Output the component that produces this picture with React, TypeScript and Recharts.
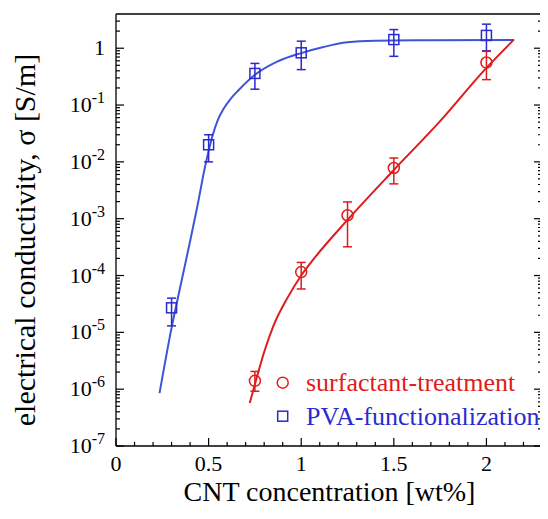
import React from "react";
import {
  ComposedChart,
  Line,
  Scatter,
  ErrorBar,
  XAxis,
  YAxis,
} from "recharts";

const FONT = '"Liberation Serif", "Times New Roman", serif';
const RED = "#e01b1b";
const BLUE_LINE = "#3b55d6";
const BLUE = "#2a2ad0";

// measured points: PVA-functionalization
const pvaX = [0.3, 0.5, 0.75, 1.0, 1.5, 2.0];
const pvaSigma = [2.7e-5, 2.0e-2, 0.36, 0.83, 1.42, 1.68];
const pvaLow = [1.3e-5, 1.0e-2, 0.19, 0.42, 0.72, 0.9];
const pvaHigh = [4.0e-5, 3.0e-2, 0.54, 1.33, 2.13, 2.65];

// measured points: surfactant-treatment
const surfX = [0.75, 1.0, 1.25, 1.5, 2.0];
const surfSigma = [1.4e-6, 1.15e-4, 1.15e-3, 7.8e-3, 0.56];
const surfLow = [0.92e-6, 5.8e-5, 3.2e-4, 4.1e-3, 0.28];
const surfHigh = [2.05e-6, 1.7e-4, 1.97e-3, 1.17e-2, 0.88];

// fitted curves
const pvaFitX = [0.235, 0.3, 0.35, 0.4, 0.44, 0.48, 0.52, 0.55, 0.58, 0.62, 0.66, 0.75, 0.87, 1.0, 1.12, 1.25, 1.4, 1.7, 2.15];
const pvaFitY = [8.5e-7, 1.2e-5, 7e-5, 4e-4, 1.7e-3, 8e-3, 2.8e-2, 5.5e-2, 8.5e-2, 0.13, 0.18, 0.34, 0.58, 0.82, 1.05, 1.27, 1.35, 1.38, 1.4];
const surfFitX = [0.722, 0.76, 0.8, 0.85, 0.925, 1.0, 1.07, 1.25, 1.5, 1.75, 2.0, 2.147];
const surfFitY = [5.7e-7, 1.6e-6, 4.5e-6, 1.3e-5, 4.0e-5, 1.0e-4, 2.0e-4, 9.5e-4, 7.2e-3, 5.2e-2, 0.45, 1.4];

// axis ticks
const xMajor = [0, 0.5, 1, 1.5, 2];
const xTicks = [0, 0.1, 0.2, 0.3, 0.4, 0.5, 0.6, 0.7, 0.8, 0.9, 1, 1.1, 1.2, 1.3, 1.4, 1.5, 1.6, 1.7, 1.8, 1.9, 2, 2.1, 2.2, 2.3];
const yExponents = [-7, -6, -5, -4, -3, -2, -1, 0];
const yMinorMult = [2, 3, 4, 5, 6, 7, 8, 9];

const yTicks: number[] = [];
yExponents.forEach((e) => {
  yTicks.push(Math.pow(10, e));
  yMinorMult.forEach((m) => {
    const v = m * Math.pow(10, e);
    if (v < 4) yTicks.push(v);
  });
});

const pvaPoints = pvaX.map((x, i) => ({
  x,
  y: pvaSigma[i],
  err: [pvaSigma[i] - pvaLow[i], pvaHigh[i] - pvaSigma[i]],
}));
const surfPoints = surfX.map((x, i) => ({
  x,
  y: surfSigma[i],
  err: [surfSigma[i] - surfLow[i], surfHigh[i] - surfSigma[i]],
}));
const pvaFit = pvaFitX.map((x, i) => ({ x, y: pvaFitY[i] }));
const surfFit = surfFitX.map((x, i) => ({ x, y: surfFitY[i] }));

const isMajorY = (v: number) => yExponents.some((e) => Math.abs(v - Math.pow(10, e)) < Math.pow(10, e) * 1e-6);

const BottomTick = (props: any) => {
  const { x, y, payload } = props;
  const major = xMajor.includes(payload.value);
  return (
    <g>
      <line x1={x} y1={y} x2={x} y2={y - (major ? 8 : 4)} stroke="#000" strokeWidth={1.2} />
      {major && (
        <text x={x} y={y + 25} textAnchor="middle" fontSize={22} fontFamily={FONT} fill="#000">
          {String(payload.value)}
        </text>
      )}
    </g>
  );
};

const TopTick = (props: any) => {
  const { x, y, payload } = props;
  const major = xMajor.includes(payload.value);
  return <line x1={x} y1={y} x2={x} y2={y + (major ? 8 : 4)} stroke="#000" strokeWidth={1.2} />;
};

const LeftTick = (props: any) => {
  const { x, y, payload } = props;
  const major = isMajorY(payload.value);
  const exp = Math.round(Math.log10(payload.value));
  return (
    <g>
      <line x1={x} y1={y} x2={x + (major ? 8 : 4)} y2={y} stroke="#000" strokeWidth={1.2} />
      {major && (
        <text x={x - 11} y={y + 7} textAnchor="end" fontSize={22} fontFamily={FONT} fill="#000">
          {exp === 0 ? (
            "1"
          ) : (
            <>
              <tspan>10</tspan>
              <tspan dy={-9} fontSize={16}>{String(exp)}</tspan>
            </>
          )}
        </text>
      )}
    </g>
  );
};

const RightTick = (props: any) => {
  const { x, y, payload } = props;
  const major = isMajorY(payload.value);
  return <line x1={x} y1={y} x2={x - (major ? 8 : 4)} y2={y} stroke="#000" strokeWidth={1.2} />;
};

const OpenCircle = (props: any) => (
  <circle cx={props.cx} cy={props.cy} r={5.5} fill="none" stroke={RED} strokeWidth={1.5} />
);
const OpenSquare = (props: any) => (
  <rect x={props.cx - 5} y={props.cy - 5} width={10} height={10} fill="none" stroke={BLUE} strokeWidth={1.5} />
);

const legendItems = [
  { name: "surfactant-treatment", color: RED, shape: "circle" },
  { name: "PVA-functionalization", color: BLUE, shape: "square" },
];

export default function App() {
  return (
    <div style={{ position: "relative", width: 540, height: 511 }}>
      <ComposedChart width={540} height={511} margin={{ top: 0, right: 0, bottom: 0, left: 0 }}>
        <XAxis
          xAxisId={0}
          dataKey="x"
          type="number"
          domain={[0, 2.3]}
          allowDataOverflow
          ticks={xTicks}
          interval={0}
          tickSize={0}
          tickMargin={0}
          tick={<BottomTick />}
          tickLine={false}
          axisLine={{ stroke: "#000", strokeWidth: 1.3 }}
          height={73}
          label={{
            content: () => (
              <text x={321.5} y={493} textAnchor="middle" fontSize={28} fontFamily={FONT} fill="#000">
                CNT concentration [wt%]
              </text>
            ),
          }}
        />
        <XAxis
          xAxisId="top"
          orientation="top"
          type="number"
          domain={[0, 2.3]}
          allowDataOverflow
          ticks={xTicks}
          interval={0}
          tickSize={0}
          tickMargin={0}
          tick={<TopTick />}
          tickLine={false}
          axisLine={{ stroke: "#000", strokeWidth: 1.3 }}
          height={6}
        />
        <YAxis
          yAxisId={0}
          scale="log"
          type="number"
          domain={[1e-7, 4]}
          allowDataOverflow
          ticks={yTicks}
          interval={0}
          tickSize={0}
          tickMargin={0}
          tick={<LeftTick />}
          tickLine={false}
          axisLine={{ stroke: "#000", strokeWidth: 1.3 }}
          width={108}
          label={{
            content: () => (
              <text
                x={27}
                y={232}
                transform="rotate(-90 27 232)"
                textAnchor="middle"
                fontSize={30}
                fontFamily={FONT}
                fill="#000"
              >
                electrical conductivity, σ [S/m]
              </text>
            ),
          }}
        />
        <YAxis
          yAxisId="right"
          orientation="right"
          scale="log"
          type="number"
          domain={[1e-7, 4]}
          allowDataOverflow
          ticks={yTicks}
          interval={0}
          tickSize={0}
          tickMargin={0}
          tick={<RightTick />}
          tickLine={false}
          axisLine={{ stroke: "#000", strokeWidth: 1.3 }}
          width={6}
        />
        <Line
          data={pvaFit}
          dataKey="y"
          type="monotone"
          stroke={BLUE_LINE}
          strokeWidth={2}
          dot={false}
          isAnimationActive={false}
        />
        <Line
          data={surfFit}
          dataKey="y"
          type="monotone"
          stroke={RED}
          strokeWidth={2}
          dot={false}
          isAnimationActive={false}
        />
        <Scatter data={pvaPoints} dataKey="y" shape={<OpenSquare />} isAnimationActive={false}>
          <ErrorBar dataKey="err" direction="y" width={4.5} stroke={BLUE} strokeWidth={1.5} />
        </Scatter>
        <Scatter data={surfPoints} dataKey="y" shape={<OpenCircle />} isAnimationActive={false}>
          <ErrorBar dataKey="err" direction="y" width={4.5} stroke={RED} strokeWidth={1.5} />
        </Scatter>
      </ComposedChart>
      <svg
        width={290}
        height={80}
        style={{ position: "absolute", left: 250, top: 350, pointerEvents: "none" }}
      >
        {legendItems.map((item, i) => {
          const cy = 24.7 + i * 33.5;
          return (
            <g key={item.name}>
              {item.shape === "circle" ? (
                <circle cx={24.7} cy={cy} r={5.5} fill="none" stroke={item.color} strokeWidth={1.5} />
              ) : (
                <rect x={19.7} y={cy - 5} width={10} height={10} fill="none" stroke={item.color} strokeWidth={1.5} />
              )}
              <text x={48} y={cy + 8.5} fontSize={26} fontFamily={FONT} fill={item.color}>
                {item.name}
              </text>
            </g>
          );
        })}
      </svg>
    </div>
  );
}
